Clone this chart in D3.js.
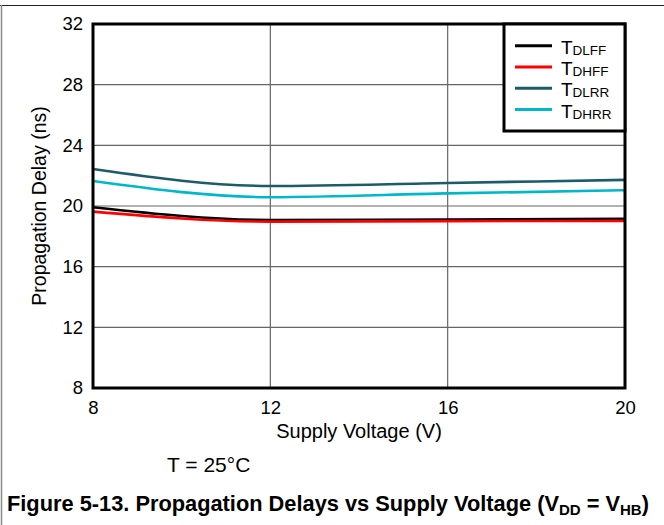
<!DOCTYPE html>
<html><head><meta charset="utf-8">
<script src="https://cdn.jsdelivr.net/npm/d3@7"></script>
<style>
body{margin:0;background:#fff;}
svg{display:block;font-family:"Liberation Sans",Arial,sans-serif;}
</style></head>
<body><svg id="c" width="664" height="525"></svg>
<script>
const voltages = [8, 12, 16, 20];
const tDLFF = [19.92, 19.08, 19.11, 19.15];
const tDHFF = [19.63, 18.97, 19.00, 19.02];
const tDLRR = [22.44, 21.32, 21.52, 21.72];
const tDHRR = [21.65, 20.58, 20.83, 21.04];
const seriesNames = ["DLFF", "DHFF", "DLRR", "DHRR"];
const xTicks = [8, 12, 16, 20];
const yTicks = [8, 12, 16, 20, 24, 28, 32];
const colors = ["#000000", "#ff0000", "#1b5c6c", "#00b8cc"];
const seriesValues = [tDLFF, tDHFF, tDLRR, tDHRR];

const svg = d3.select("#c");
const L = 93, R = 625, T = 24, B = 388;
const x = d3.scaleLinear().domain([8, 20]).range([L, R]);
const y = d3.scaleLinear().domain([8, 32]).range([B, T]);

// figure frame
svg.append("line").attr("x1", 0).attr("x2", 664).attr("y1", 5.5).attr("y2", 5.5).attr("stroke", "#222").attr("stroke-width", 1);
svg.append("line").attr("x1", 1.5).attr("x2", 1.5).attr("y1", 5).attr("y2", 525).attr("stroke", "#888").attr("stroke-width", 1.5);

// grid
svg.append("g").selectAll("line").data(yTicks.slice(1, -1)).join("line")
  .attr("x1", L).attr("x2", R).attr("y1", d => y(d)).attr("y2", d => y(d))
  .attr("stroke", "#666").attr("stroke-width", 1.2);
svg.append("g").selectAll("line").data(xTicks.slice(1, -1)).join("line")
  .attr("y1", T).attr("y2", B).attr("x1", d => x(d)).attr("x2", d => x(d))
  .attr("stroke", "#666").attr("stroke-width", 1.2);

// axes (labels only)
const yAxis = d3.axisLeft(y).tickValues(yTicks).tickSize(0).tickPadding(10);
const gy = svg.append("g").attr("transform", `translate(${L},0)`).call(yAxis);
const xAxis = d3.axisBottom(x).tickValues(xTicks).tickSize(0).tickPadding(13);
const gx = svg.append("g").attr("transform", `translate(0,${B})`).call(xAxis);
[gy, gx].forEach(g => {
  g.select(".domain").remove();
  g.selectAll("text").attr("font-size", 18.5).attr("fill", "#000").attr("font-family", "Liberation Sans, Arial, sans-serif");
});

// lines
const line = d3.line().x((d, i) => x(voltages[i])).y(d => y(d)).curve(d3.curveMonotoneX);
seriesValues.forEach((vals, k) => {
  svg.append("path").datum(vals).attr("d", line).attr("fill", "none")
    .attr("stroke", colors[k]).attr("stroke-width", 2.6);
});

// plot border
svg.append("rect").attr("x", L).attr("y", T).attr("width", R - L).attr("height", B - T)
  .attr("fill", "none").attr("stroke", "#000").attr("stroke-width", 3);

// legend
const lg = svg.append("g");
lg.append("rect").attr("x", 504).attr("y", T).attr("width", R - 504).attr("height", 107)
  .attr("fill", "#fff").attr("stroke", "#000").attr("stroke-width", 3);
seriesNames.forEach((n, k) => {
  const yy = 45.7 + k * 21.3;
  lg.append("line").attr("x1", 515).attr("x2", 552).attr("y1", yy).attr("y2", yy)
    .attr("stroke", colors[k]).attr("stroke-width", 3);
  const t = lg.append("text").attr("x", 561).attr("y", yy + 8).attr("font-size", 19);
  t.append("tspan").text("T");
  t.append("tspan").attr("font-size", 13.5).attr("dy", 1).text(n);
});

// axis titles
svg.append("text").attr("x", (L + R) / 2).attr("y", 438).attr("text-anchor", "middle")
  .attr("font-size", 20).text("Supply Voltage (V)");
svg.append("text").attr("transform", `translate(46,${(T + B) / 2}) rotate(-90)`)
  .attr("text-anchor", "middle").attr("font-size", 19.5).text("Propagation Delay (ns)");

svg.append("text").attr("x", 167).attr("y", 472).attr("font-size", 21).text("T = 25°C");

// caption
const cap = svg.append("text").attr("x", 7).attr("y", 511).attr("font-size", 21.8).attr("font-weight", "bold");
cap.append("tspan").text("Figure 5-13. Propagation Delays vs Supply Voltage (V");
cap.append("tspan").attr("font-size", 15).attr("dy", 4).text("DD");
cap.append("tspan").attr("dy", -4).text(" = V");
cap.append("tspan").attr("font-size", 15).attr("dy", 4).text("HB");
cap.append("tspan").attr("dy", -4).text(")");
</script>
</body></html>
